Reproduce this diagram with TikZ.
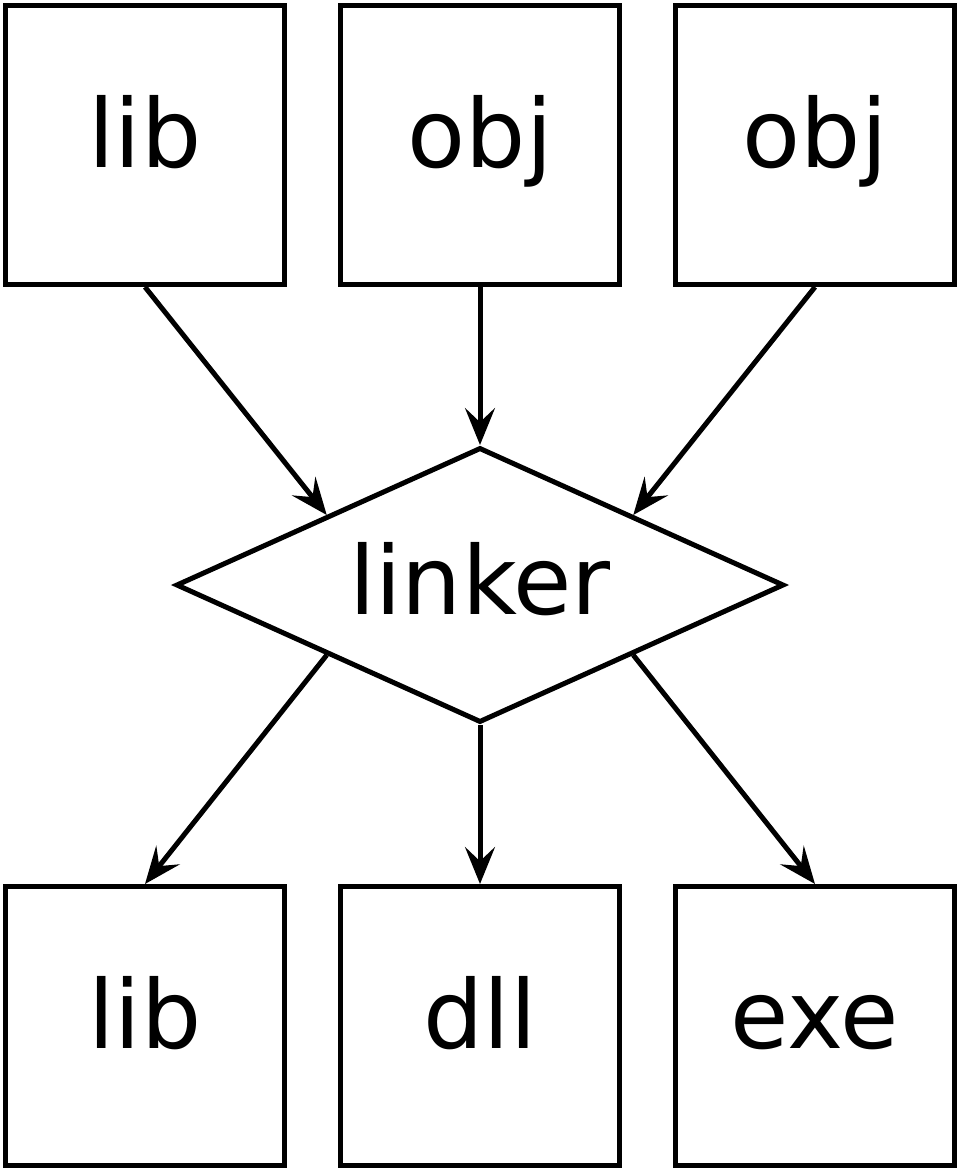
\documentclass[tikz,border=0pt]{standalone}
\usepackage{fontspec}
\setmainfont{DejaVu Sans}
\usetikzlibrary{calc,arrows.meta,shapes.geometric,positioning}

\begin{document}
\begin{tikzpicture}[line width=2.85pt,
    file/.style={draw,minimum width=5.58cm,minimum height=5.58cm,inner sep=0pt,text height=26pt,text depth=0pt,font=\fontsize{54}{60}\selectfont},
    tool/.style={draw,diamond,aspect=2.2,minimum width=12.16cm,minimum height=5.5cm,inner sep=0pt,text height=33pt,text depth=0pt,font=\fontsize{54}{60}\selectfont},
    flow/.style={-{Stealth[length=21pt,width=17pt,inset=8pt]}}]
  \useasboundingbox (0,0) rectangle (19.2,-23.46) ;
  \node[file] (lib1) at (2.9,-2.9) {lib} ;
  \node[file] (obj1) at (9.6,-2.9) {obj} ;
  \node[file] (obj2) at (16.3,-2.9) {obj} ;
  \node[tool] (link) at (9.6,-11.7) {linker} ;
  \node[file] (lib2) at (2.9,-20.52) {lib} ;
  \node[file] (dll) at (9.6,-20.52) {dll} ;
  \node[file] (exe) at (16.3,-20.52) {exe} ;

  % entrees du linker
  \draw[flow] (lib1.south) -- ($(link.north)!0.5!(link.west)$) ;
  \draw[flow] (obj1.south) -- (link.north) ;
  \draw[flow] (obj2.south) -- ($(link.north)!0.5!(link.east)$) ;

  % sorties
  \draw[flow] ($(link.south)!0.5!(link.west)$) -- (lib2.north) ;
  \draw[flow] (link.south) -- (dll.north) ;
  \draw[flow] ($(link.south)!0.5!(link.east)$) -- (exe.north) ;
\end{tikzpicture}
\end{document}
